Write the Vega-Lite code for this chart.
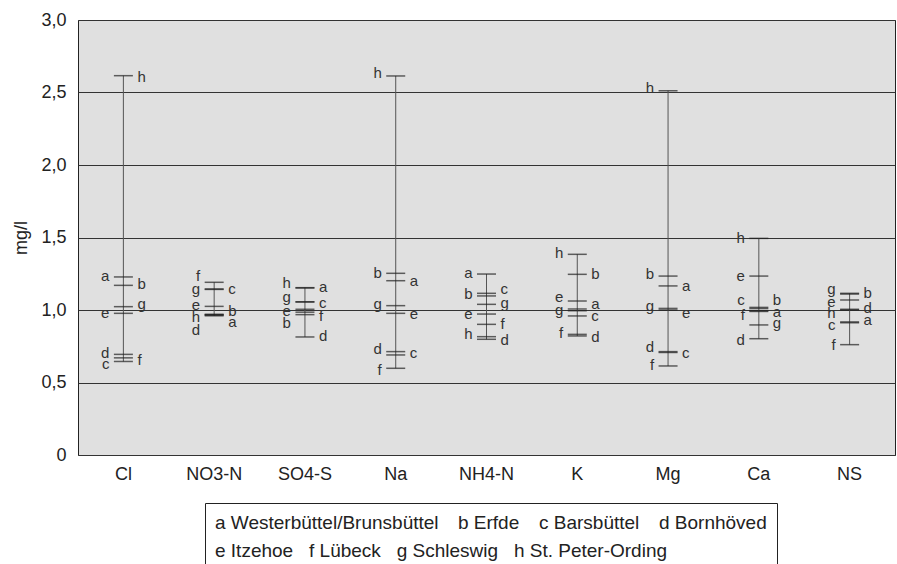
{
  "$schema": "https://vega.github.io/schema/vega-lite/v6.json",
  "width": 817,
  "height": 435,
  "autosize": "none",
  "padding": {"left": 78, "top": 20, "right": 2, "bottom": 109},
  "background": "white",
  "config": {
    "font": "Liberation Sans",
    "view": {"fill": "#e0e0e0", "stroke": "#222", "strokeWidth": 1}
  },
  "data": {"values": [
    {"cat": "Cl", "site": "a", "value": 1.228, "side": "L", "ly": 1.234},
    {"cat": "Cl", "site": "b", "value": 1.170, "side": "R", "ly": 1.177},
    {"cat": "Cl", "site": "c", "value": 0.645, "side": "L", "ly": 0.628},
    {"cat": "Cl", "site": "d", "value": 0.694, "side": "L", "ly": 0.701},
    {"cat": "Cl", "site": "e", "value": 0.977, "side": "L", "ly": 0.977},
    {"cat": "Cl", "site": "f", "value": 0.670, "side": "R", "ly": 0.655},
    {"cat": "Cl", "site": "g", "value": 1.023, "side": "R", "ly": 1.039},
    {"cat": "Cl", "site": "h", "value": 2.616, "side": "R", "ly": 2.609},

    {"cat": "NO3-N", "site": "a", "value": 0.965, "side": "R", "ly": 0.919},
    {"cat": "NO3-N", "site": "b", "value": 0.968, "side": "R", "ly": 0.995},
    {"cat": "NO3-N", "site": "c", "value": 1.142, "side": "R", "ly": 1.143},
    {"cat": "NO3-N", "site": "d", "value": 0.960, "side": "L", "ly": 0.862},
    {"cat": "NO3-N", "site": "e", "value": 1.025, "side": "L", "ly": 1.034},
    {"cat": "NO3-N", "site": "f", "value": 1.191, "side": "L", "ly": 1.234},
    {"cat": "NO3-N", "site": "g", "value": 1.145, "side": "L", "ly": 1.143},
    {"cat": "NO3-N", "site": "h", "value": 0.970, "side": "L", "ly": 0.954},

    {"cat": "SO4-S", "site": "a", "value": 1.152, "side": "R", "ly": 1.161},
    {"cat": "SO4-S", "site": "b", "value": 0.968, "side": "L", "ly": 0.908},
    {"cat": "SO4-S", "site": "c", "value": 1.055, "side": "R", "ly": 1.046},
    {"cat": "SO4-S", "site": "d", "value": 0.814, "side": "R", "ly": 0.823},
    {"cat": "SO4-S", "site": "e", "value": 1.005, "side": "L", "ly": 0.995},
    {"cat": "SO4-S", "site": "f", "value": 0.985, "side": "R", "ly": 0.959},
    {"cat": "SO4-S", "site": "g", "value": 1.057, "side": "L", "ly": 1.087},
    {"cat": "SO4-S", "site": "h", "value": 1.154, "side": "L", "ly": 1.188},

    {"cat": "Na", "site": "a", "value": 1.202, "side": "R", "ly": 1.202},
    {"cat": "Na", "site": "b", "value": 1.253, "side": "L", "ly": 1.253},
    {"cat": "Na", "site": "c", "value": 0.690, "side": "R", "ly": 0.701},
    {"cat": "Na", "site": "d", "value": 0.713, "side": "L", "ly": 0.729},
    {"cat": "Na", "site": "e", "value": 0.977, "side": "R", "ly": 0.972},
    {"cat": "Na", "site": "f", "value": 0.598, "side": "L", "ly": 0.586},
    {"cat": "Na", "site": "g", "value": 1.030, "side": "L", "ly": 1.041},
    {"cat": "Na", "site": "h", "value": 2.614, "side": "L", "ly": 2.632},

    {"cat": "NH4-N", "site": "a", "value": 1.248, "side": "L", "ly": 1.257},
    {"cat": "NH4-N", "site": "b", "value": 1.097, "side": "L", "ly": 1.108},
    {"cat": "NH4-N", "site": "c", "value": 1.115, "side": "R", "ly": 1.143},
    {"cat": "NH4-N", "site": "d", "value": 0.798, "side": "R", "ly": 0.793},
    {"cat": "NH4-N", "site": "e", "value": 0.972, "side": "L", "ly": 0.972},
    {"cat": "NH4-N", "site": "f", "value": 0.901, "side": "R", "ly": 0.903},
    {"cat": "NH4-N", "site": "g", "value": 1.039, "side": "R", "ly": 1.046},
    {"cat": "NH4-N", "site": "h", "value": 0.816, "side": "L", "ly": 0.834},

    {"cat": "K", "site": "a", "value": 1.007, "side": "R", "ly": 1.039},
    {"cat": "K", "site": "b", "value": 1.246, "side": "R", "ly": 1.246},
    {"cat": "K", "site": "c", "value": 0.959, "side": "R", "ly": 0.959},
    {"cat": "K", "site": "d", "value": 0.821, "side": "R", "ly": 0.816},
    {"cat": "K", "site": "e", "value": 1.062, "side": "L", "ly": 1.092},
    {"cat": "K", "site": "f", "value": 0.832, "side": "L", "ly": 0.839},
    {"cat": "K", "site": "g", "value": 0.995, "side": "L", "ly": 1.000},
    {"cat": "K", "site": "h", "value": 1.384, "side": "L", "ly": 1.391},

    {"cat": "Mg", "site": "a", "value": 1.166, "side": "R", "ly": 1.166},
    {"cat": "Mg", "site": "b", "value": 1.234, "side": "L", "ly": 1.246},
    {"cat": "Mg", "site": "c", "value": 0.707, "side": "R", "ly": 0.706},
    {"cat": "Mg", "site": "d", "value": 0.713, "side": "L", "ly": 0.743},
    {"cat": "Mg", "site": "e", "value": 1.000, "side": "R", "ly": 0.981},
    {"cat": "Mg", "site": "f", "value": 0.614, "side": "L", "ly": 0.621},
    {"cat": "Mg", "site": "g", "value": 1.011, "side": "L", "ly": 1.028},
    {"cat": "Mg", "site": "h", "value": 2.512, "side": "L", "ly": 2.529},

    {"cat": "Ca", "site": "a", "value": 0.990, "side": "R", "ly": 0.989},
    {"cat": "Ca", "site": "b", "value": 1.010, "side": "R", "ly": 1.069},
    {"cat": "Ca", "site": "c", "value": 1.018, "side": "L", "ly": 1.069},
    {"cat": "Ca", "site": "d", "value": 0.802, "side": "L", "ly": 0.793},
    {"cat": "Ca", "site": "e", "value": 1.234, "side": "L", "ly": 1.234},
    {"cat": "Ca", "site": "f", "value": 0.995, "side": "L", "ly": 0.966},
    {"cat": "Ca", "site": "g", "value": 0.897, "side": "R", "ly": 0.908},
    {"cat": "Ca", "site": "h", "value": 1.494, "side": "L", "ly": 1.499},

    {"cat": "NS", "site": "a", "value": 0.918, "side": "R", "ly": 0.931},
    {"cat": "NS", "site": "b", "value": 1.110, "side": "R", "ly": 1.115},
    {"cat": "NS", "site": "c", "value": 0.912, "side": "L", "ly": 0.897},
    {"cat": "NS", "site": "d", "value": 1.005, "side": "R", "ly": 1.011},
    {"cat": "NS", "site": "e", "value": 1.069, "side": "L", "ly": 1.057},
    {"cat": "NS", "site": "f", "value": 0.761, "side": "L", "ly": 0.761},
    {"cat": "NS", "site": "g", "value": 1.115, "side": "L", "ly": 1.143},
    {"cat": "NS", "site": "h", "value": 1.000, "side": "L", "ly": 0.977}
  ]},
  "encoding": {
    "x": {
      "field": "cat", "type": "nominal",
      "sort": ["Cl", "NO3-N", "SO4-S", "Na", "NH4-N", "K", "Mg", "Ca", "NS"],
      "scale": {"type": "band", "paddingInner": 0, "paddingOuter": 0},
      "axis": {"title": null, "labelAngle": 0, "ticks": false, "domain": false, "labelPadding": 10, "labelFontSize": 18, "labelColor": "#222", "grid": false}
    }
  },
  "layer": [
    {
      "mark": {"type": "rule", "color": "#555", "strokeWidth": 1},
      "encoding": {
        "y": {"aggregate": "min", "field": "value", "type": "quantitative", "scale": {"domain": [0, 3], "nice": false},
          "axis": {"values": [0, 0.5, 1, 1.5, 2, 2.5, 3], "grid": true, "gridColor": "#333", "gridWidth": 1, "ticks": false, "domain": false,
            "labelExpr": "datum.value == 0 ? '0' : replace(format(datum.value, '.1f'), '.', ',')",
            "labelFontSize": 18, "labelColor": "#222", "labelPadding": 12,
            "title": "mg/l", "titleFontSize": 18, "titleFontWeight": "normal", "titleColor": "#222", "titlePadding": 10}},
        "y2": {"aggregate": "max", "field": "value"}
      }
    },
    {
      "mark": {"type": "tick", "size": 19, "thickness": 1.5, "orient": "horizontal"},
      "encoding": {
        "y": {"field": "value", "type": "quantitative"},
        "color": {
          "field": "site", "type": "nominal",
          "scale": {"domain": ["a", "b", "c", "d", "e", "f", "g", "h"], "range": ["#222", "#222", "#222", "#222", "#222", "#222", "#222", "#222"]},
          "legend": {
            "orient": "none", "legendX": 127, "legendY": 483, "direction": "horizontal", "columns": 4,
            "values": ["a", "b", "c", "d"],
            "title": "e\u00a0Itzehoe\u00a0\u00a0\u00a0f\u00a0Lübeck\u00a0\u00a0\u00a0g\u00a0Schleswig\u00a0\u00a0\u00a0h\u00a0St. Peter-Ording",
            "titleOrient": "bottom", "titleAnchor": "start", "titleFontSize": 19, "titleFontWeight": "normal", "titleColor": "#222", "titleLimit": 700, "titlePadding": 9,
            "labelExpr": "datum.label == 'a' ? 'a\u00a0Westerbüttel/Brunsbüttel' : datum.label == 'b' ? 'b\u00a0Erfde' : datum.label == 'c' ? 'c\u00a0Barsbüttel' : 'd\u00a0Bornhöved'",
            "labelFontSize": 19, "labelColor": "#222", "labelLimit": 400,
            "symbolSize": 0, "symbolStrokeWidth": 0, "symbolOpacity": 0, "symbolOffset": 0, "labelOffset": -19,
            "strokeColor": "#222", "fillColor": "white", "padding": 10, "columnPadding": 19
          }
        }
      }
    },
    {
      "transform": [{"filter": "datum.side === 'L'"}],
      "mark": {"type": "text", "align": "right", "baseline": "middle", "dx": -14, "fontSize": 15, "color": "#333"},
      "encoding": {
        "y": {"field": "ly", "type": "quantitative"},
        "text": {"field": "site"}
      }
    },
    {
      "transform": [{"filter": "datum.side === 'R'"}],
      "mark": {"type": "text", "align": "left", "baseline": "middle", "dx": 14, "fontSize": 15, "color": "#333"},
      "encoding": {
        "y": {"field": "ly", "type": "quantitative"},
        "text": {"field": "site"}
      }
    }
  ]
}
